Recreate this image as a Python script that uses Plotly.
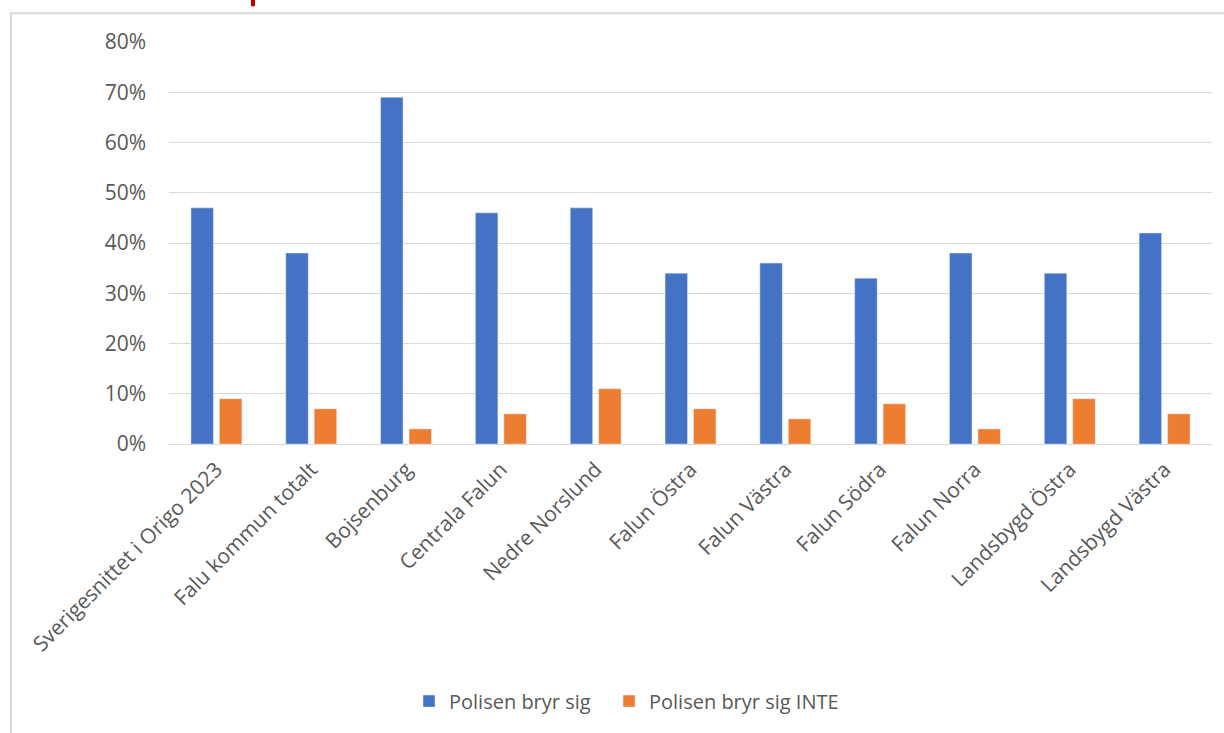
import plotly.graph_objects as go

categories = ["Sverigesnittet i Origo 2023", "Falu kommun totalt", "Bojsenburg", "Centrala Falun",
              "Nedre Norslund", "Falun Östra", "Falun Västra", "Falun Södra", "Falun Norra",
              "Landsbygd Östra", "Landsbygd Västra"]
bryr_sig = [0.47, 0.38, 0.69, 0.46, 0.47, 0.34, 0.36, 0.33, 0.38, 0.34, 0.42]
bryr_inte = [0.09, 0.07, 0.03, 0.06, 0.11, 0.07, 0.05, 0.08, 0.03, 0.09, 0.06]
tick_vals = [0, 0.1, 0.2, 0.3, 0.4, 0.5, 0.6, 0.7, 0.8]

W, H = 1224, 733
L, R, T, B = 169, 12, 42, 286
pw, ph = W - L - R, H - T - B

def px_x(x):
    return (x - L) / pw

def px_y(y):
    return (H - B - y) / ph

fig = go.Figure()
fig.add_trace(go.Bar(x=categories, y=bryr_sig, name="Polisen bryr sig", marker_color="#4472C4",
                     legend="legend", showlegend=True))
fig.add_trace(go.Bar(x=categories, y=bryr_inte, name="Polisen bryr sig INTE", marker_color="#ED7D31",
                     legend="legend2", showlegend=True))

font = "'Open Sans', sans-serif"
leg_common = dict(orientation="h", xanchor="left", y=px_y(706), yanchor="middle",
                  font=dict(size=20, color="#595959"), bgcolor="rgba(0,0,0,0)", visible=True)
fig.update_layout(
    width=W, height=H,
    margin=dict(l=L, r=R, t=T, b=B),
    paper_bgcolor="white", plot_bgcolor="white",
    showlegend=True,
    barmode="group", bargap=0.4, bargroupgap=0.21,
    font=dict(family=font, size=20, color="#595959"),
    legend=dict(x=px_x(409), **leg_common),
    legend2=dict(x=px_x(609), **leg_common),
    xaxis=dict(tickangle=-45, showgrid=False, showline=False, ticks="", ticklabelstandoff=8,
               tickfont=dict(size=21, color="#595959")),
    yaxis=dict(range=[0, 0.8], tickvals=tick_vals, tickformat=".0%", showgrid=True,
               gridcolor="#d9d9d9", gridwidth=1, zeroline=True, zerolinecolor="#d9d9d9",
               zerolinewidth=1, ticks="", ticklabelstandoff=22,
               tickfont=dict(size=21, color="#595959")),
    shapes=[
        dict(type="rect", xref="paper", yref="paper",
             x0=px_x(11), x1=px_x(1240), y0=px_y(750), y1=px_y(13),
             line=dict(color="#d9d9d9", width=2), fillcolor="rgba(0,0,0,0)", layer="below"),
        dict(type="line", xref="paper", yref="paper",
             x0=px_x(253), x1=px_x(253), y0=px_y(-2), y1=px_y(6),
             line=dict(color="#C00000", width=4)),
    ],
)
fig.write_html("out.html", config={"displayModeBar": False},
               post_script="document.body.style.margin='0';document.body.style.overflow='hidden';")
